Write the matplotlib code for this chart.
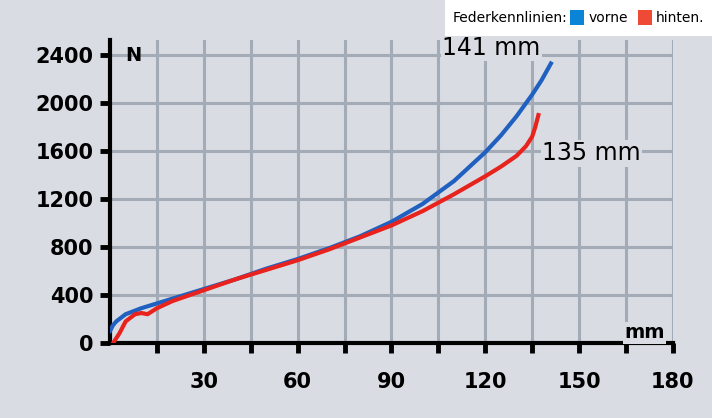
import matplotlib
matplotlib.use("Agg")
import matplotlib.pyplot as plt
from matplotlib.patches import Rectangle

plt.rcParams['font.family'] = ['Liberation Sans Narrow', 'DejaVu Sans']

vorne_x = [0, 1, 2, 5, 10, 20, 30, 40, 50, 60, 70, 80, 90, 100, 110, 120, 125, 130, 135, 138, 141]
vorne_y = [100, 150, 180, 240, 290, 370, 450, 530, 620, 700, 790, 890, 1010, 1160, 1350, 1590, 1730, 1890, 2070, 2190, 2330]
hinten_x = [1, 3, 5, 8, 10, 12, 15, 20, 30, 40, 50, 60, 70, 80, 90, 100, 110, 120, 125, 130, 133, 135, 136, 137]
hinten_y = [0, 80, 180, 240, 250, 240, 290, 350, 440, 530, 610, 690, 780, 880, 980, 1100, 1240, 1390, 1470, 1560, 1640, 1720, 1800, 1900]
x_ticks = [30, 60, 90, 120, 150, 180]
y_ticks = [0, 400, 800, 1200, 1600, 2000, 2400]

bg = '#d9dde3'
fig = plt.figure(figsize=(7.12, 4.18), dpi=100, facecolor=bg)
ax = fig.add_axes([0.1545, 0.1794, 0.7905, 0.7246], facecolor=bg)
ax.set_xlim(0, 180)
ax.set_ylim(0, 2525)

for gx in range(15, 181, 15):
    ax.axvline(gx, color='#a3acb6', lw=2.2, zorder=1)
for gy in y_ticks[1:]:
    ax.axhline(gy, color='#a3acb6', lw=2.2, zorder=1)

ax.plot(vorne_x, vorne_y, color='#2060c0', lw=3, zorder=3)
ax.plot(hinten_x, hinten_y, color='#e8231e', lw=3, zorder=3)

for s in ['top', 'right']:
    ax.spines[s].set_visible(False)
for s in ['left', 'bottom']:
    ax.spines[s].set_linewidth(3)

ax.set_xticks(list(range(15, 181, 15)))
ax.set_xticklabels([str(v) if v % 30 == 0 else '' for v in range(15, 181, 15)])
ax.set_yticks(y_ticks)
ax.tick_params(axis='both', length=7, width=3.5, labelsize=15, pad=5)
ax.tick_params(axis='x', pad=14)
for lab in ax.get_xticklabels() + ax.get_yticklabels():
    lab.set_fontweight('bold')

ax.text(5, 2400, 'N', fontsize=14, fontweight='bold', va='center', ha='left')
ax.text(171, 5, 'mm', fontsize=14, fontweight='bold', va='bottom', ha='center', zorder=4,
        bbox=dict(facecolor=bg, edgecolor='none', pad=1))

ax.text(122, 2460, '141 mm', fontsize=17, ha='center', va='center', zorder=4,
        bbox=dict(facecolor=bg, edgecolor='none', pad=1))
ax.text(154, 1580, '135 mm', fontsize=17, ha='center', va='center', zorder=4,
        bbox=dict(facecolor=bg, edgecolor='none', pad=1))

# legend box
fig.patches.append(Rectangle((445/712, 1-36/418), 267/712, 36/418, transform=fig.transFigure,
                             facecolor='white', edgecolor='none'))
fig.text(453/712, 1-18/418, 'Federkennlinien:', fontsize=10, va='center', ha='left')
fig.patches.append(Rectangle((570/712, 1-25/418), 14/712, 15/418, transform=fig.transFigure,
                             facecolor='#0a84d6', edgecolor='none'))
fig.text(589/712, 1-18/418, 'vorne', fontsize=10, va='center', ha='left')
fig.patches.append(Rectangle((638/712, 1-25/418), 14/712, 15/418, transform=fig.transFigure,
                             facecolor='#ee4a35', edgecolor='none'))
fig.text(656/712, 1-18/418, 'hinten.', fontsize=10, va='center', ha='left')

fig.savefig('out.png', dpi=100, facecolor=bg)
